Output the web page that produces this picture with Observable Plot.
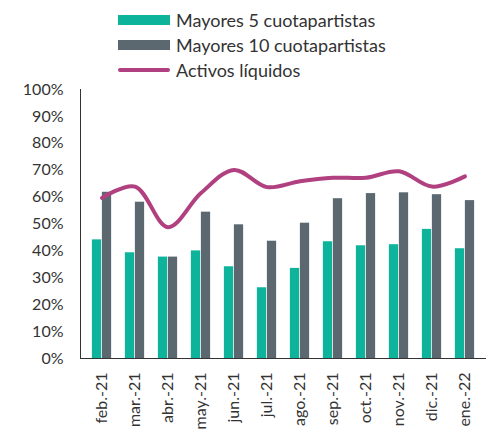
<!DOCTYPE html>
<html>
<head>
<meta charset="utf-8">
<script src="https://cdn.jsdelivr.net/npm/d3@7"></script>
<script src="https://cdn.jsdelivr.net/npm/@observablehq/plot@0.6"></script>
<style>
  body { margin: 0; background: #fff; font-family: Lato, "Open Sans", sans-serif; }
  #wrap { width: 490px; height: 432px; position: relative; overflow: hidden; }
  #legend { position: relative; height: 72px; }
  .item { position: absolute; left: 118px; display: flex; align-items: center; height: 22px; font-size: 18px; color: #333; white-space: nowrap; }
  .sw { width: 52px; margin-right: 6px; }
</style>
</head>
<body>
<div id="wrap">
  <div id="legend"></div>
  <div id="chart"></div>
</div>
<script>
const months = ["feb.-21","mar.-21","abr.-21","may.-21","jun.-21","jul.-21","ago.-21","sep.-21","oct.-21","nov.-21","dic.-21","ene.-22"];
const mayores5 = [44.1, 39.3, 37.7, 40.0, 34.1, 26.3, 33.5, 43.4, 41.9, 42.3, 48.0, 40.8];
const mayores10 = [61.8, 58.1, 37.7, 54.4, 49.7, 43.6, 50.3, 59.4, 61.3, 61.6, 60.9, 58.7];
const activos = [59.7, 63.9, 48.8, 61.5, 70.1, 63.7, 65.9, 67.2, 67.2, 69.6, 63.9, 67.7];
const seriesNames = ["Mayores 5 cuotapartistas", "Mayores 10 cuotapartistas", "Activos líquidos"];
const colors = ["#0db39b", "#5c6870", "#b0407f"];
const yTicks = [0, 10, 20, 30, 40, 50, 60, 70, 80, 90, 100];

// legend
const legend = document.getElementById("legend");
const tops = [9, 34, 59];
seriesNames.forEach((name, i) => {
  const it = document.createElement("div");
  it.className = "item";
  it.style.top = tops[i] + "px";
  const sw = document.createElement("div");
  sw.className = "sw";
  sw.style.background = colors[i];
  sw.style.height = i < 2 ? "10px" : "4px";
  if (i === 2) sw.style.borderRadius = "2px";
  it.appendChild(sw);
  const t = document.createElement("span");
  t.textContent = name;
  it.appendChild(t);
  legend.appendChild(it);
});

const d5 = months.map((m, i) => ({month: m, value: mayores5[i]}));
const d10 = months.map((m, i) => ({month: m, value: mayores10[i]}));
const dl = months.map((m, i) => ({month: m, value: activos[i]}));

const W = 490, H = 360, ML = 80, MR = 5;
const bw = (W - ML - MR) / months.length;
const barW = 10;

const chart = Plot.plot({
  width: W,
  height: H,
  marginLeft: ML,
  marginRight: MR,
  marginTop: 17,
  marginBottom: 74,
  style: { fontFamily: "Lato, 'Open Sans', sans-serif", fontSize: "16px", color: "#333", background: "#fff", overflow: "visible" },
  x: { type: "band", domain: months, padding: 0, label: null, tickSize: 0, tickPadding: 14, tickRotate: -90, line: true },
  y: { domain: [0, 100], ticks: yTicks, tickFormat: d => d + "%", label: null, tickSize: 0, tickPadding: 17, line: true },
  marks: [
    Plot.barY(d5, { x: "month", y: "value", fill: colors[0], insetLeft: bw / 2 - barW, insetRight: bw / 2 }),
    Plot.barY(d10, { x: "month", y: "value", fill: colors[1], insetLeft: bw / 2, insetRight: bw / 2 - barW }),
    Plot.lineY(dl, { x: "month", y: "value", stroke: colors[2], strokeWidth: 4, curve: "catmull-rom" })
  ]
});
chart.querySelectorAll("[aria-label='x-axis'] path, [aria-label='y-axis'] path, [aria-label='x-axis line'] line, [aria-label='y-axis line'] line").forEach(e => { e.setAttribute("stroke", "#aaa"); e.setAttribute("stroke-width", "2"); });
document.getElementById("chart").appendChild(chart);
</script>
</body>
</html>
